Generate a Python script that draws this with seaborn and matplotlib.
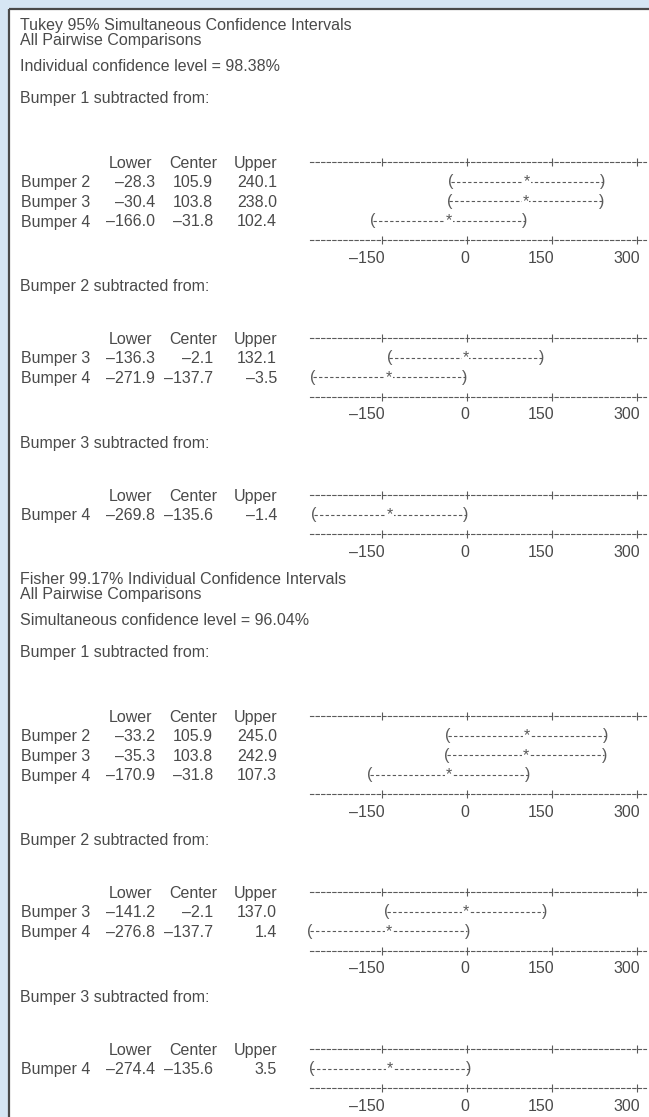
import numpy as np
import pandas as pd
import matplotlib
matplotlib.use("Agg")
import matplotlib.pyplot as plt
import matplotlib.transforms as mtrans
from matplotlib.patches import Rectangle
import seaborn as sns

# ---------------- data ----------------
tukey_title = "Tukey 95% Simultaneous Confidence Intervals"
tukey_level = "Individual confidence level = 98.38%"
fisher_title = "Fisher 99.17% Individual Confidence Intervals"
fisher_level = "Simultaneous confidence level = 96.04%"
subtitle = "All Pairwise Comparisons"

block_titles = ["Bumper 1 subtracted from:",
                "Bumper 2 subtracted from:",
                "Bumper 3 subtracted from:"]
block_rows = [["Bumper 2", "Bumper 3", "Bumper 4"],
              ["Bumper 3", "Bumper 4"],
              ["Bumper 4"]]

tukey_lower = [[-28.3, -30.4, -166.0], [-136.3, -271.9], [-269.8]]
tukey_center = [[105.9, 103.8, -31.8], [-2.1, -137.7], [-135.6]]
tukey_upper = [[240.1, 238.0, 102.4], [132.1, -3.5], [-1.4]]

fisher_lower = [[-33.2, -35.3, -170.9], [-141.2, -276.8], [-274.4]]
fisher_center = [[105.9, 103.8, -31.8], [-2.1, -137.7], [-135.6]]
fisher_upper = [[245.0, 242.9, 107.3], [137.0, 1.4], [3.5]]

tick_values = [-150, 0, 150, 300]
tick_labels = ["\u2013150", "0", "150", "300"]
column_heads = ["Lower", "Center", "Upper"]

# ---------------- style ----------------
sns.set_theme(style="white")
plt.rcParams["font.family"] = ["Liberation Sans", "DejaVu Sans"]
TEXT = "#4a4a4a"
LINE = "#5a5a5a"
FS = 11.5
HALF_CAP = 5.7          # px from a line's visual centre down to its baseline
DASH = (0, (3.0, 2.0))

W, H = 649, 1117
DPI = 100
fig = plt.figure(figsize=(W / DPI, H / DPI), dpi=DPI, facecolor="#d6e6f4")

# page canvas in pixel units
bg = fig.add_axes([0, 0, 1, 1])
bg.set_xlim(0, W)
bg.set_ylim(H, 0)
bg.axis("off")
bg.add_patch(Rectangle((9, 9), W, H, facecolor="white", edgecolor="none", zorder=0))
bg.plot([9, 9], [H, 9], color="#4a4a4a", lw=1.6, solid_capstyle="butt", zorder=1)
bg.plot([9, W], [9, 9], color="#4a4a4a", lw=1.6, solid_capstyle="butt", zorder=1)

ROW = 19.6
X_LEFT = 20
COL_RIGHT = [152, 217, 277]
VAL_RIGHT = [155, 213, 277]
PANEL_L, PANEL_R = 310, 646
XLIM = (-276.5, 316.4)


def fmt(v):
    return f"{v:.1f}".replace("-", "\u2013")


def put(x, y, s, ha="left"):
    bg.text(x, y + HALF_CAP, s, ha=ha, va="baseline", fontsize=FS, color=TEXT)


def interval_panel(top_px, names, lo, ce, up):
    n = len(names)
    h_px = (n + 1) * ROW
    ax = fig.add_axes([PANEL_L / W, 1 - (top_px + h_px) / H,
                       (PANEL_R - PANEL_L) / W, h_px / H])
    ax.patch.set_alpha(0)
    rows = np.arange(1, n + 1)
    df = pd.DataFrame({
        "value": np.concatenate([lo, up]),
        "row": np.concatenate([rows, rows]),
        "pair": np.concatenate([names, names]),
    })
    sns.lineplot(data=df, x="value", y="row", units="pair", estimator=None,
                 sort=True, color=LINE, lw=0.8, linestyle=DASH, legend=False,
                 ax=ax)
    for r, a, c, b in zip(rows, lo, ce, up):
        ax.text(a, r, "(", ha="center", va="center", fontsize=FS,
                color=LINE)
        ax.text(b, r, ")", ha="center", va="center", fontsize=FS,
                color=LINE)
        ax.text(c, r, "*", ha="center", va="center", fontsize=FS,
                color=LINE, bbox=dict(boxstyle="square,pad=0.05", fc="white",
                                      ec="none"))
    ax.set_xlim(*XLIM)
    ax.set_ylim(n + 1, 0)
    ax.set_xlabel("")
    ax.set_ylabel("")
    ax.set_yticks([])
    ax.set_xticks(tick_values)
    ax.set_xticklabels(tick_labels)
    for side in ("left", "right"):
        ax.spines[side].set_visible(False)
    for side in ("top", "bottom"):
        ax.spines[side].set_visible(True)
        ax.spines[side].set_linestyle(DASH)
        ax.spines[side].set_linewidth(0.8)
        ax.spines[side].set_color(LINE)
    ax.tick_params(axis="x", direction="inout", length=6, width=0.8,
                   color=LINE, top=True, bottom=True, labeltop=False,
                   labelbottom=True, labelsize=FS, labelcolor=TEXT, pad=4.5)
    shift = mtrans.ScaledTranslation(3 / DPI, 0, fig.dpi_scale_trans)
    for lbl in ax.get_xticklabels():
        lbl.set_ha("right")
        lbl.set_transform(lbl.get_transform() + shift)


def section(header_ys, title, level, lows, cens, ups):
    h0 = header_ys[0]
    put(X_LEFT, h0 - 138, title)
    put(X_LEFT, h0 - 123, subtitle)
    put(X_LEFT, h0 - 97, level)
    for k, hy in enumerate(header_ys):
        put(X_LEFT, hy - (65 if k == 0 else 53), block_titles[k])
        for cx, head in zip(COL_RIGHT, column_heads):
            put(cx, hy, head, ha="right")
        names = block_rows[k]
        for i, name in enumerate(names):
            ry = hy + (i + 1) * ROW
            put(X_LEFT + 0.7, ry, name)
            for vx, v in zip(VAL_RIGHT, (lows[k][i], cens[k][i], ups[k][i])):
                put(vx, ry, fmt(v), ha="right")
        interval_panel(hy, names, lows[k], cens[k], ups[k])


section([162, 338, 495], tukey_title, tukey_level,
        tukey_lower, tukey_center, tukey_upper)
section([716, 892, 1049], fisher_title, fisher_level,
        fisher_lower, fisher_center, fisher_upper)

fig.savefig("out.png", dpi=DPI, facecolor=fig.get_facecolor())
